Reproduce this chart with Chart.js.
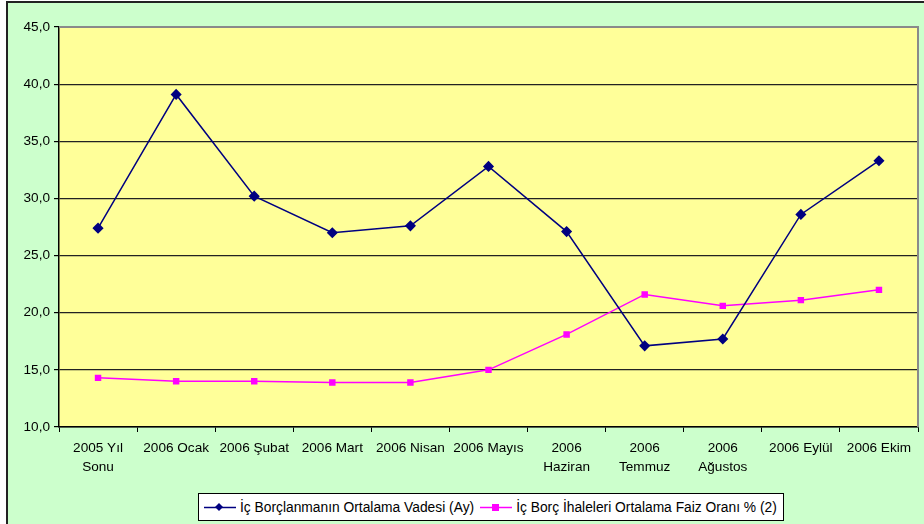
<!DOCTYPE html>
<html>
<head>
<meta charset="utf-8">
<script src="https://cdn.jsdelivr.net/npm/chart.js@4"></script>
<style>
  html, body { margin: 0; padding: 0; background: #fff; overflow: hidden; }
  #frame {
    position: absolute; left: 6px; top: 1px; width: 1000px; height: 600px;
    background: #CCFFCC; border-left: 2px solid #222; border-top: 2px solid #222;
  }
  #wrap { position: absolute; left: 0; top: 0; width: 924px; height: 524px; }
  #legend {
    position: absolute; left: 198px; top: 493px; height: 26px;
    background: #fff; border: 1px solid #000; display: flex; align-items: center;
    font: 13.8px "Liberation Sans", Arial, sans-serif; color: #000; white-space: nowrap;
    padding: 0 6px 0 5px;
  }
  .item { display: flex; align-items: center; margin-right: 6px; }
  .item:last-child { margin-right: 0; }
  .item svg { margin-right: 4px; }
</style>
</head>
<body>
<div id="frame"></div>
<div id="wrap"><canvas id="chart" width="924" height="524"></canvas></div>
<div id="legend"></div>
<script>
// --- data ---
const categories = [
  ['2005 Yıl', 'Sonu'], '2006 Ocak', '2006 Şubat', '2006 Mart', '2006 Nisan',
  '2006 Mayıs', ['2006', 'Haziran'], ['2006', 'Temmuz'], ['2006', 'Ağustos'],
  '2006 Eylül', '2006 Ekim'
];
const vadeValues = [27.4, 39.1, 30.2, 27.0, 27.6, 32.8, 27.1, 17.1, 17.7, 28.6, 33.3];
const faizValues = [14.3, 14.0, 14.0, 13.9, 13.9, 15.0, 18.1, 21.6, 20.6, 21.1, 22.0];
const seriesLabels = ['İç Borçlanmanın Ortalama Vadesi (Ay)', 'İç Borç İhaleleri Ortalama Faiz Oranı % (2)'];
const yMin = 10, yMax = 45, yStep = 5;

Chart.defaults.font.family = '"Liberation Sans", Arial, sans-serif';
Chart.defaults.font.size = 13.6;
Chart.defaults.color = '#000';

// yellow plot area + gray top/right border
const plotBg = {
  id: 'plotBg',
  beforeDraw(chart) {
    const { ctx, chartArea: a } = chart;
    ctx.save();
    ctx.fillStyle = '#FFFF99';
    ctx.fillRect(a.left, a.top, a.right - a.left, a.bottom - a.top);
    ctx.restore();
  },
  afterDraw(chart) {
    const { ctx, chartArea: a } = chart;
    ctx.save();
    ctx.strokeStyle = '#8a8a8a';
    ctx.lineWidth = 2;
    ctx.beginPath();
    ctx.moveTo(a.left, a.top);
    ctx.lineTo(a.right, a.top);
    ctx.lineTo(a.right, a.bottom);
    ctx.stroke();
    ctx.restore();
  }
};

const chart = new Chart(document.getElementById('chart'), {
  type: 'line',
  data: {
    labels: categories,
    datasets: [
      {
        label: seriesLabels[0], data: vadeValues,
        borderColor: '#000080', backgroundColor: '#000080', borderWidth: 1.5,
        pointStyle: 'rectRot', pointRadius: 4.5, pointHoverRadius: 4.5, tension: 0
      },
      {
        label: seriesLabels[1], data: faizValues,
        borderColor: '#FF00FF', backgroundColor: '#FF00FF', borderWidth: 1.5,
        pointStyle: 'rect', pointRadius: 3.5, pointHoverRadius: 3.5, tension: 0
      }
    ]
  },
  options: {
    responsive: false,
    animation: false,
    layout: { padding: { left: 0, top: 27, right: 4, bottom: 0 } },
    plugins: { legend: { display: false }, tooltip: { enabled: false } },
    scales: {
      x: {
        offset: true,
        grid: { offset: true, drawOnChartArea: false, color: '#000', tickLength: 5 },
        border: { color: '#000', width: 1.5 },
        ticks: { maxRotation: 0, autoSkip: false, padding: 6, font: { lineHeight: 1.45 } },
        afterFit(s) { s.height = 97; }
      },
      y: {
        min: yMin, max: yMax,
        grid: {
          color: ctx => (ctx.tick && ctx.tick.value === yMax) ? 'rgba(0,0,0,0)' : '#222',
          lineWidth: 1.2, tickLength: 5, tickColor: '#000'
        },
        border: { color: '#000', width: 1.5 },
        ticks: { stepSize: yStep, padding: 4, callback: v => v.toFixed(1).replace('.', ',') },
        afterFit(s) { s.width = 59; }
      }
    }
  },
  plugins: [plotBg]
});

// legend box built from the chart's datasets
const legend = document.getElementById('legend');
chart.data.datasets.forEach(ds => {
  const marker = ds.pointStyle === 'rectRot'
    ? `<path d="M15 1 L19 5 L15 9 L11 5 Z" fill="${ds.borderColor}"/>`
    : `<rect x="12" y="2" width="7" height="7" fill="${ds.borderColor}"/>`;
  const el = document.createElement('span');
  el.className = 'item';
  el.innerHTML = `<svg width="32" height="10"><line x1="0" y1="5.5" x2="32" y2="5.5" stroke="${ds.borderColor}" stroke-width="1.5"/>${marker}</svg>${ds.label}`;
  legend.appendChild(el);
});
</script>
</body>
</html>
